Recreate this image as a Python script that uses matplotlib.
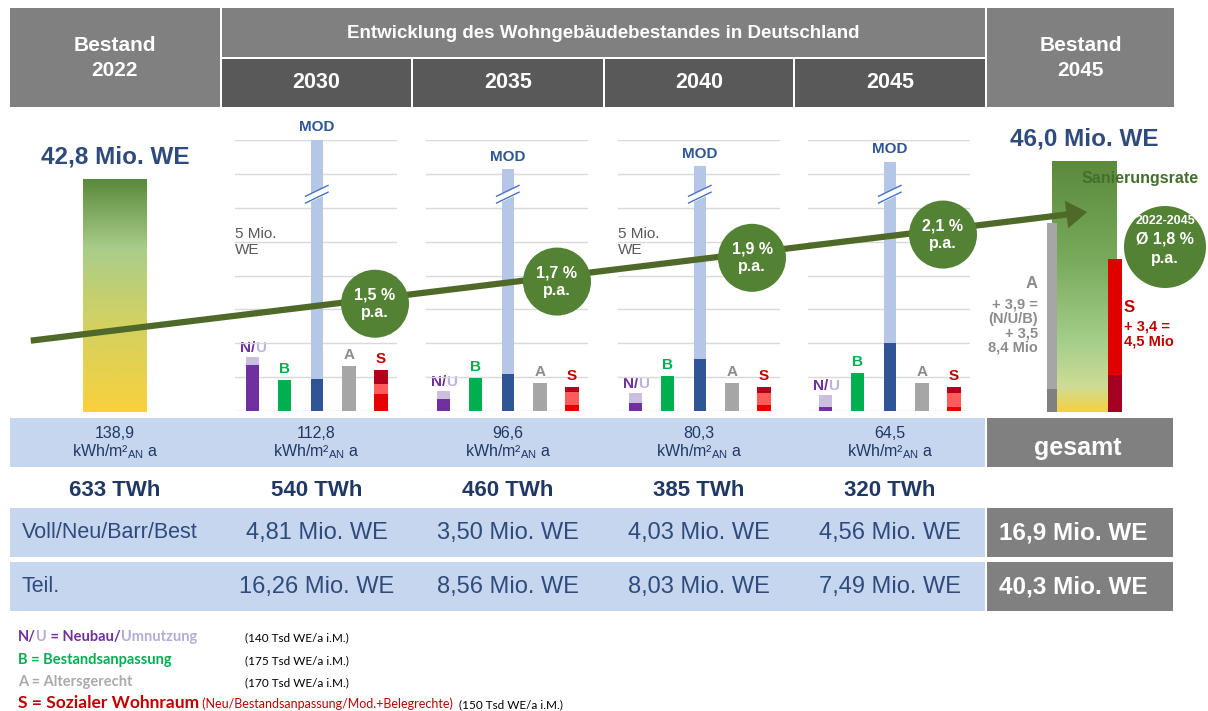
import numpy as np
import matplotlib
matplotlib.use("Agg")
import matplotlib.pyplot as plt
from matplotlib.patches import Rectangle, Circle, FancyArrowPatch
from matplotlib.colors import LinearSegmentedColormap

plt.rcParams['font.family'] = ['Liberation Sans', 'DejaVu Sans']
plt.rcParams['mathtext.fontset'] = 'custom'
plt.rcParams['mathtext.rm'] = 'Liberation Sans'
plt.rcParams['mathtext.it'] = 'Liberation Sans:italic'
plt.rcParams['mathtext.bf'] = 'Liberation Sans:bold'

# --- data -------------------------------------------------------------
years = ["2030", "2035", "2040", "2045"]
nu_neubau = [1.36, 0.35, 0.24, 0.12]        # Mio. WE
nu_umnutzung = [0.23, 0.24, 0.29, 0.35]
bestandsanp = [0.91, 0.97, 1.03, 1.12]
mod_dark = [0.94, 1.09, 1.53, 2.00]
mod_light = [7.06, 6.05, 5.70, 5.35]        # cut (axis break) part of MOD
altersgerecht = [1.33, 0.83, 0.83, 0.83]
sozial_neu = [0.50, 0.18, 0.18, 0.12]
sozial_anp = [0.30, 0.38, 0.35, 0.41]
sozial_mod = [0.41, 0.15, 0.18, 0.18]
rates = ["1,5 %", "1,7 %", "1,9 %", "2,1 %"]

bestand_we = [42.8, 46.0]
a_2045 = [1.0, 7.4]      # bestehend + (3,9 + 3,5)
s_2045 = [1.1, 3.4]

kwh = ["138,9", "112,8", "96,6", "80,3", "64,5"]
twh = ["633 TWh", "540 TWh", "460 TWh", "385 TWh", "320 TWh"]
voll = ["4,81", "3,50", "4,03", "4,56"]
teil = ["16,26", "8,56", "8,03", "7,49"]
voll_total = "16,9"
teil_total = "40,3"

# --- colours ----------------------------------------------------------
PURPLE, LAV = '#7030a0', '#cbbfe0'
GREEN = '#00b050'
MODD, MODL = '#2f5597', '#b4c7e7'
GRAYA = '#a6a6a6'
RED, SALMON, DRED = '#e60000', '#ff5b5b', '#b3001b'
HEAD, HEAD_D = '#808080', '#595959'
LBLUE = '#c6d6ee'
NAVY, BLUE = '#1f3864', '#2f4b7c'
CIRC = '#548235'
LINE = '#4f6a28'

W, H = 1208, 711
fig = plt.figure(figsize=(W / 100, H / 100), dpi=100)


def box(x0, y0, x1, y1):
    return [x0 / W, 1 - y1 / H, (x1 - x0) / W, (y1 - y0) / H]


bg = fig.add_axes([0, 0, 1, 1])
bg.set_xlim(0, W)
bg.set_ylim(H, 0)
bg.axis('off')


def cell(x0, y0, x1, y1, color):
    bg.add_patch(Rectangle((x0, y0), x1 - x0, y1 - y0, color=color, lw=0))


def rich(ax, x, y, parts, ha='left'):
    r = fig.canvas.get_renderer()
    arts = []
    cx = x
    for s, kw in parts:
        t = ax.text(cx, y, s, va='baseline', ha='left', **kw)
        cx += t.get_window_extent(r).width
        arts.append(t)
    if ha == 'center':
        shift = (cx - x) / 2
        for t in arts:
            t.set_x(t.get_position()[0] - shift)


col_l = [10, 222, 413, 605, 795, 987]
col_r = [220, 411, 603, 793, 985, 1174]
col_c = [(a + b) / 2 for a, b in zip(col_l, col_r)]

# header
hdr = dict(color='white', weight='bold', ha='center', va='center')
cell(10, 8, 220, 107, HEAD)
bg.text(col_c[0], 58, "Bestand\n2022", fontsize=15, linespacing=1.35, **hdr)
cell(222, 8, 985, 57, HEAD)
bg.text(603, 33, "Entwicklung des Wohngebäudebestandes in Deutschland", fontsize=13.5, **hdr)
for i, y in enumerate(years):
    cell(col_l[i + 1], 59, col_r[i + 1], 107, HEAD_D)
    bg.text(col_c[i + 1], 83, y, fontsize=15.5, **hdr)
cell(987, 8, 1174, 107, HEAD)
bg.text(col_c[5], 58, "Bestand\n2045", fontsize=15, linespacing=1.35, **hdr)

# table
cell(10, 418, 985, 467, LBLUE)
cell(10, 508, 985, 557, LBLUE)
cell(10, 562, 985, 611, LBLUE)
cell(987, 418, 1173, 467, HEAD)
cell(987, 508, 1173, 557, HEAD)
cell(987, 562, 1173, 611, HEAD)
for i in range(5):
    bg.text(col_c[i], 433, kwh[i], fontsize=11.5, color=NAVY, ha='center', va='center')
    bg.text(col_c[i], 452, r"kWh/m²$_{\rm AN}$ a", fontsize=11.5, color=NAVY,
            ha='center', va='center')
    bg.text(col_c[i], 491, twh[i], fontsize=16, weight='bold', color=NAVY,
            ha='center', va='center')
for i in range(4):
    bg.text(col_c[i + 1], 533, voll[i] + " Mio. WE", fontsize=17, color=BLUE,
            ha='center', va='center')
    bg.text(col_c[i + 1], 587, teil[i] + " Mio. WE", fontsize=17, color=BLUE,
            ha='center', va='center')
bg.text(22, 533, "Voll/Neu/Barr/Best", fontsize=15.5, color=BLUE, va='center')
bg.text(22, 587, "Teil.", fontsize=15.5, color=BLUE, va='center')
bg.text(1078, 448, "gesamt", fontsize=18, **hdr)
bg.text(1073, 533, voll_total + " Mio. WE", fontsize=17.5, **hdr)
bg.text(1073, 587, teil_total + " Mio. WE", fontsize=17.5, **hdr)

# legend
lg = dict(fontsize=10.5, weight='bold', family='Lato')
sm = dict(fontsize=8.5, family='Lato', color='black')
rich(bg, 18, 641, [("N/", dict(color=PURPLE, **lg)),
                   ("U", dict(color='#b8aad6', **lg)),
                   (" = Neubau/", dict(color=PURPLE, **lg)),
                   ("Umnutzung", dict(color='#b8aad6', **lg))])
bg.text(245, 641, "(140 Tsd WE/a i.M.)", va='baseline', **sm)
bg.text(18, 664, "B = Bestandsanpassung", color=GREEN, va='baseline', **lg)
bg.text(245, 664, "(175 Tsd WE/a i.M.)", va='baseline', **sm)
bg.text(18, 686, "A = Altersgerecht", color='#aaaaaa', va='baseline', **lg)
bg.text(245, 686, "(170 Tsd WE/a i.M.)", va='baseline', **sm)
rich(bg, 18, 708, [("S = Sozialer Wohnraum", dict(color='#c00000', fontsize=12.5,
                                                   weight='bold', family='Lato')),
                   (" (Neu/Bestandsanpassung/Mod.+Belegrechte)", dict(color='#c00000', fontsize=9,
                                                                       family='Lato')),
                   ("  (150 Tsd WE/a i.M.)", sm)])

# --- yearly panels ------------------------------------------------------
bw = 0.42
for i in range(4):
    x0 = col_l[i + 1] + 13
    ax = fig.add_axes(box(x0, 140, x0 + 162, 411))
    ax.set_facecolor('none')
    ax.set_xlim(-0.55, 4.5)
    ax.set_ylim(0, 8)
    ax.set_yticks(range(9))
    ax.set_xticks([])
    ax.grid(axis='y', color='#d9d9d9', lw=1)
    ax.set_axisbelow(True)
    ax.tick_params(left=False, labelleft=False)
    for s in ax.spines.values():
        s.set_visible(False)

    ax.bar(0, nu_neubau[i], bw, color=PURPLE)
    ax.bar(0, nu_umnutzung[i], bw, bottom=nu_neubau[i], color=LAV)
    ax.bar(1, bestandsanp[i], bw, color=GREEN)
    ax.bar(2, mod_dark[i], 0.38, color=MODD)
    ax.bar(2, mod_light[i], 0.38, bottom=mod_dark[i], color=MODL)
    ax.bar(3, altersgerecht[i], bw, color=GRAYA)
    ax.bar(4, sozial_neu[i], bw, color=RED)
    ax.bar(4, sozial_anp[i], bw, bottom=sozial_neu[i], color=SALMON)
    ax.bar(4, sozial_mod[i], bw, bottom=sozial_neu[i] + sozial_anp[i], color=DRED)

    # axis break on the MOD bar
    yb = 6.5
    xs = np.array([2 - 0.35, 2 + 0.35])
    ax.fill_between(xs, [yb - 0.16, yb + 0.16], [yb - 0.36, yb - 0.04], color='white', zorder=3)
    ax.plot(xs, [yb - 0.16, yb + 0.16], color='#4472c4', lw=1, zorder=4)
    ax.plot(xs, [yb - 0.36, yb - 0.04], color='#4472c4', lw=1, zorder=4)

    lab = dict(textcoords='offset points', ha='center', va='bottom', fontsize=11,
               weight='bold', annotation_clip=False)
    ax.annotate("MOD", (2, mod_dark[i] + mod_light[i]), xytext=(0, 4), color=MODD, **lab)
    ax.annotate("B", (1, bestandsanp[i]), xytext=(0, 3), color=GREEN, **lab)
    ax.annotate("A", (3, altersgerecht[i]), xytext=(0, 3), color='#8c8c8c', **lab)
    ax.annotate("S", (4, sozial_neu[i] + sozial_anp[i] + sozial_mod[i]), xytext=(0, 3),
                color='#c00000', **lab)
    disp = ax.transData.transform((0, nu_neubau[i] + nu_umnutzung[i]))
    px, py = bg.transData.inverted().transform(disp)
    rich(bg, px, py - 5, [("N/", dict(color=PURPLE, fontsize=11, weight='bold')),
                          ("U", dict(color='#bfb2d9', fontsize=11, weight='bold'))],
         ha='center')
    if i in (0, 2):
        ax.text(-0.55, 5, "5 Mio.\nWE", fontsize=11, color='#595959', ha='left',
                va='center', linespacing=1.2)

# --- Bestand columns ----------------------------------------------------
grad = np.linspace(0, 1, 256)[:, None]
cm22 = LinearSegmentedColormap.from_list('b22', [(0, '#f9d13c'), (0.43, '#cdd166'),
                                                 (0.7, '#a9cd8a'), (1, '#5a8a3b')])
cm45 = LinearSegmentedColormap.from_list('b45', [(0, '#f5d142'), (0.1, '#cfdc95'),
                                                 (0.27, '#a6cf8b'), (0.6, '#7aab5c'),
                                                 (1, '#5a8a3a')])
px_per_mio = 5.435
px_per_mio_sub = 33.9


def bestand_axes(x0, x1):
    a = fig.add_axes(box(x0, 112, x1, 412))
    a.set_xlim(x0, x1)
    a.axis('off')
    return a


we_lab = dict(textcoords='offset points', ha='center', va='bottom', fontsize=17.5,
              weight='bold', color=BLUE, annotation_clip=False)

b0 = bestand_axes(10, 220)
b0.imshow(grad, extent=[83, 147, 0, bestand_we[0]], origin='lower', aspect='auto', cmap=cm22)
b0.set_xlim(10, 220)
b0.set_ylim(0, 300 / px_per_mio)
b0.annotate(f"{bestand_we[0]:.1f}".replace('.', ',') + " Mio. WE", (115, bestand_we[0]),
            xytext=(0, 8), **we_lab)

b1 = bestand_axes(987, 1174)
b1.imshow(grad, extent=[1052, 1117, 0, bestand_we[1]], origin='lower', aspect='auto', cmap=cm45)
b1.set_xlim(987, 1174)
b1.set_ylim(0, 300 / px_per_mio)
b1.annotate(f"{bestand_we[1]:.1f}".replace('.', ',') + " Mio. WE", (1084, bestand_we[1]),
            xytext=(0, 8), **we_lab)

bs = bestand_axes(987, 1174)
bs.set_ylim(0, 300 / px_per_mio_sub)
bs.bar(1115, s_2045[0], 14, color='#a50021')
bs.bar(1115, s_2045[1], 14, bottom=s_2045[0], color='#e00000')

ba = bestand_axes(987, 1174)
ba.set_ylim(0, 13.3)
ba.bar(1052, a_2045[0], 10, color='#808080')
ba.bar(1052, a_2045[1], 10, bottom=a_2045[0], color='#a6a6a6')

# --- overlay: trend arrow and rates ------------------------------------
ov = fig.add_axes([0, 0, 1, 1])
ov.set_facecolor('none')
ov.set_xlim(0, W)
ov.set_ylim(H, 0)
ov.axis('off')


def line_y(x):
    return 341 - 0.1218 * (x - 28)


ov.add_patch(FancyArrowPatch((28, line_y(28)), (1090, line_y(1090)),
                             arrowstyle='simple,head_length=1.5,head_width=2.0,tail_width=0.45',
                             mutation_scale=10, color=LINE, lw=0, zorder=2))
for cx, r in zip([375, 557, 752, 943], rates):
    cy = line_y(cx) + 5
    ov.add_patch(Circle((cx, cy), 34, color=CIRC, lw=0, zorder=3))
    ov.text(cx, cy, r + "\np.a.", color='white', weight='bold', fontsize=11.5,
            ha='center', va='center', linespacing=1.2, zorder=4)

ov.add_patch(Circle((1165, 247), 41, color=CIRC, lw=0, zorder=3))
ov.text(1165, 221, "2022-2045", color='white', weight='bold', fontsize=9,
        ha='center', va='center', zorder=4)
ov.text(1165, 239, "Ø 1,8 %", color='white', weight='bold', fontsize=11.5,
        ha='center', va='center', zorder=4)
ov.text(1165, 259, "p.a.", color='white', weight='bold', fontsize=11.5,
        ha='center', va='center', zorder=4)
ov.text(1140, 179, "Sanierungsrate", color='#446f2c', weight='bold', fontsize=11.5,
        ha='center', va='center', zorder=4)

ov.text(1038, 284, "A", color='#8c8c8c', weight='bold', fontsize=12, ha='right', va='center')
ov.text(1038, 326, "+ 3,9 =\n(N/U/B)\n+ 3,5\n8,4 Mio", color='#8c8c8c', weight='bold',
        fontsize=10.5, ha='right', va='center', linespacing=1.05)
ov.text(1124, 308, "S", color='#c00000', weight='bold', fontsize=12, ha='left', va='center')
ov.text(1124, 334, "+ 3,4 =\n4,5 Mio", color='#c00000', weight='bold', fontsize=10.5,
        ha='left', va='center', linespacing=1.05)

fig.savefig("out.png", dpi=100, facecolor='white')
